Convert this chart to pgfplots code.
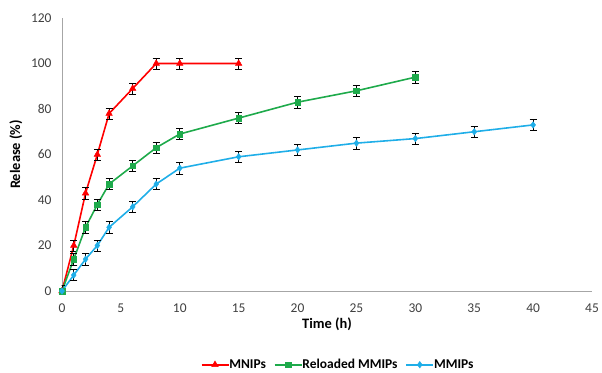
\documentclass[border=0pt]{standalone}
\usepackage{fontspec}
\setmainfont{Carlito}
\usepackage{pgfplots}
\pgfplotsset{compat=1.18}
\definecolor{cred}{HTML}{FF0000}
\definecolor{cgreen}{HTML}{1EAA4B}
\definecolor{cblue}{HTML}{1FAEE8}
\definecolor{axgray}{HTML}{A6A6A6}
\definecolor{txtgray}{HTML}{404040}
\begin{document}
\begin{tikzpicture}
\useasboundingbox (-62bp,-82bp) rectangle (540bp,291bp);
\begin{axis}[
  at={(0,0)}, anchor=south west,
  scale only axis, width=530bp, height=273bp,
  xmin=0, xmax=45, ymin=0, ymax=120,
  xtick={0,5,...,45}, ytick={0,20,...,120},
  axis lines=left, axis line style={axgray, -},
  major tick length=0pt,
  tick label style={font=\fontsize{13.5}{15}\selectfont, text=txtgray},
  xticklabel style={yshift=-9bp},
  yticklabel style={xshift=-7bp},
  /pgf/number format/assume math mode=true,
  xlabel={\textbf{Time (h)}}, ylabel={\textbf{Release (\%)}},
  label style={font=\fontsize{14.5}{16}\selectfont},
  xlabel style={yshift=1bp},
  ylabel style={yshift=2bp},
  legend style={draw=none, at={(0.521,-0.27)}, anchor=center, legend columns=3,
    font=\fontsize{13.5}{15}\selectfont\bfseries, /tikz/every even column/.append style={column sep=6bp},
    /tikz/every odd column/.append style={column sep=-2bp}},
  legend image code/.code={\draw[mark repeat=2,mark phase=2] plot coordinates {(0bp,0bp) (13.5bp,0bp) (27bp,0bp)};},
  legend cell align=left,
  every axis plot/.append style={line width=1.6pt},
  error bars/y dir=both, error bars/y fixed=2.5,
  error bars/error bar style={black, line width=0.6pt},
  error bars/error mark options={black, rotate=90, mark size=3.5pt, line width=0.6pt},
]
\addplot[cred, mark=triangle*, mark size=3.8pt, mark options={solid, line width=0.4pt}] coordinates {
(0,0) (1,20) (2,43) (3,60) (4,78) (6,89) (8,100) (10,100) (15,100)};
\addlegendentry{MNIPs}
\addplot[cgreen, mark=square*, mark size=2.8pt, mark options={solid, line width=0.4pt}] coordinates {
(0,0) (1,14) (2,28) (3,38) (4,47) (6,55) (8,63) (10,69) (15,76) (20,83) (25,88) (30,94)};
\addlegendentry{Reloaded MMIPs}
\addplot[cblue, mark=diamond*, mark size=3.3pt, mark options={solid, line width=0.4pt}] coordinates {
(0,0) (1,7) (2,14) (3,20) (4,28) (6,37) (8,47) (10,54) (15,59) (20,62) (25,65) (30,67) (35,70) (40,73)};
\addlegendentry{MMIPs}
\end{axis}
\end{tikzpicture}
\end{document}
